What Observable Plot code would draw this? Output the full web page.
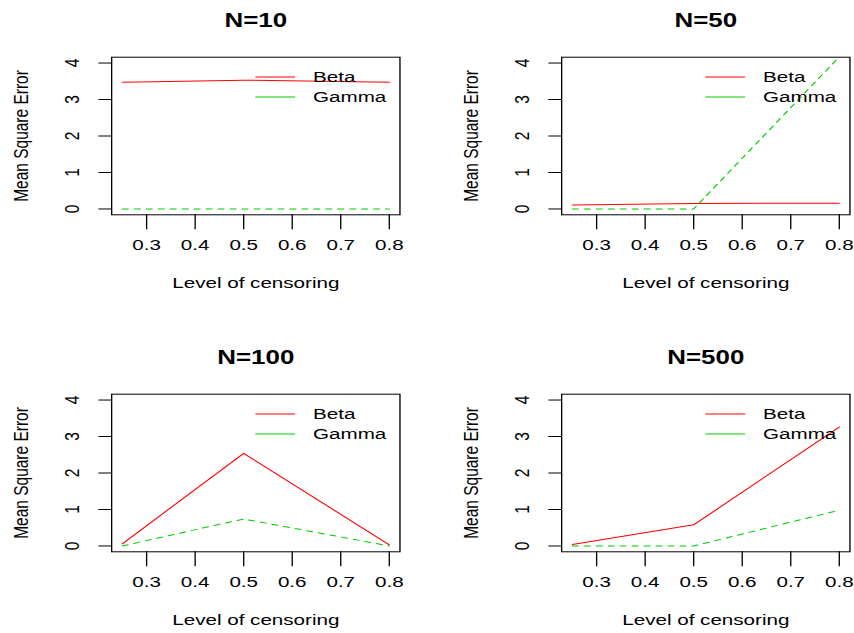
<!DOCTYPE html>
<html>
<head>
<meta charset="utf-8">
<script src="https://cdn.jsdelivr.net/npm/d3@7"></script>
<script src="https://cdn.jsdelivr.net/npm/@observablehq/plot@0.6"></script>
<style>
  html, body { margin: 0; padding: 0; background: #fff; }
  #wrap { position: relative; width: 854px; height: 633px; overflow: hidden; background: #fff; }
  .panel { position: absolute; }
</style>
</head>
<body>
<div id="wrap"></div>
<script>
// ---- data ----
const censoring = [0.25, 0.5, 0.8];
const xTicks = [0.3, 0.4, 0.5, 0.6, 0.7, 0.8];
const yTicks = [0, 1, 2, 3, 4];
const panelTitles = ["N=10", "N=50", "N=100", "N=500"];
const seriesNames = ["Beta", "Gamma"];
const beta10 = [3.47, 3.53, 3.47];
const gamma10 = [0.0, 0.0, 0.0];
const beta50 = [0.11, 0.15, 0.16];
const gamma50 = [0.0, 0.0, 4.17];
const beta100 = [0.06, 2.54, 0.03];
const gamma100 = [0.0, 0.74, 0.0];
const beta500 = [0.04, 0.58, 3.26];
const gamma500 = [0.0, 0.0, 0.98];
const xLabel = "Level of censoring";
const yLabel = "Mean Square Error";

const panels = [
  {title: panelTitles[0], beta: beta10, gamma: gamma10},
  {title: panelTitles[1], beta: beta50, gamma: gamma50},
  {title: panelTitles[2], beta: beta100, gamma: gamma100},
  {title: panelTitles[3], beta: beta500, gamma: gamma500}
];

const RED = "#ff0000", GREEN = "#00cd00";
const S = 1.33;            // horizontal stretch of the reference image
const PW = 450, PH = 300;  // displayed panel size
const W = PW / S;
const font = "'Liberation Sans', Arial, sans-serif";

function makePanel(p) {
  const toRows = (vals, name) => censoring.map((c, i) => ({x: c, y: vals[i], series: name}));
  const betaRows = toRows(p.beta, seriesNames[0]);
  const gammaRows = toRows(p.gamma, seriesNames[1]);
  const legend = [
    {name: seriesNames[0], y: 3.62, stroke: RED, dash: null},
    {name: seriesNames[1], y: 3.07, stroke: GREEN, dash: "4.5,4.5"}
  ];
  const fL = 111 / S, fR = 399.3 / S, fT = 56.7, fB = 214.3;
  const svg = Plot.plot({
    width: W, height: PH,
    marginLeft: fL, marginRight: W - fR, marginTop: fT, marginBottom: PH - fB,
    style: {fontFamily: font, fontSize: "15.5px", color: "#000", background: "transparent"},
    x: {domain: [0.228, 0.822]},
    y: {domain: [-0.16, 4.16]},
    marks: [
      Plot.frame({stroke: "#000", strokeWidth: 1}),
      Plot.axisX({ticks: xTicks, tickSize: 15, tickPadding: 9, tickFormat: d3.format(".1f"), label: null, fontSize: 15.5}),
      Plot.axisY({ticks: yTicks, tickSize: 9.5, text: null, label: null}),
      Plot.text(yTicks, {y: d => d, frameAnchor: "left", dx: -(39.3 / S), rotate: -90,
        text: d => d3.format("d")(d), textAnchor: "middle", lineAnchor: "middle", fontSize: 15.5, fill: "#000"}),
      Plot.line(betaRows, {x: "x", y: "y", stroke: RED, strokeWidth: 1}),
      Plot.line(gammaRows, {x: "x", y: "y", stroke: GREEN, strokeWidth: 1, strokeDasharray: "4.5,4.5"}),
      Plot.link(legend, {x1: 0.524, x2: 0.606, y1: "y", y2: "y", stroke: d => d.stroke, strokeDasharray: d => d.dash, strokeWidth: 1}),
      Plot.text(legend, {x: 0.643, y: "y", text: "name", textAnchor: "start", lineAnchor: "middle", fontSize: 15.5, fill: "#000"}),
      Plot.text([p.title], {frameAnchor: "top", dy: -(fT - 20), text: d => d, lineAnchor: "middle", fontWeight: "bold", fontSize: 19.5, fill: "#000"}),
      Plot.text([xLabel], {frameAnchor: "bottom", dy: 283 - fB, text: d => d, lineAnchor: "middle", fontSize: 15.5, fill: "#000"}),
      Plot.text([yLabel], {frameAnchor: "left", dx: -(fL - 21 / S), rotate: -90, text: d => d, textAnchor: "middle", lineAnchor: "middle", fontSize: 15.5, fill: "#000"})
    ]
  });
  svg.setAttribute("width", PW);
  svg.setAttribute("height", PH);
  svg.setAttribute("preserveAspectRatio", "none");
  svg.style.width = PW + "px";
  svg.style.height = PH + "px";
  svg.style.maxWidth = "none";
  return svg;
}

const wrap = document.getElementById("wrap");
panels.forEach((p, i) => {
  const div = document.createElement("div");
  div.className = "panel";
  div.style.left = (i % 2) * 450 + "px";
  div.style.top = Math.floor(i / 2) * 337 + "px";
  div.appendChild(makePanel(p));
  wrap.appendChild(div);
});
</script>
</body>
</html>
